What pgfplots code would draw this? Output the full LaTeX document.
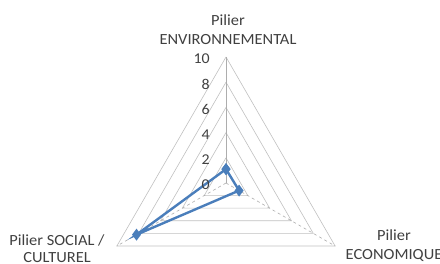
\documentclass[border=0pt]{standalone}
\usepackage{pgfplots}
\pgfplotsset{compat=1.18}
\usepgfplotslibrary{polar}
\usepackage{fontspec}
\setmainfont{Carlito}[FakeStretch=1.06]
\definecolor{serie}{RGB}{74,126,187}
\definecolor{gridc}{RGB}{192,192,192}
\definecolor{txt}{RGB}{64,64,64}
\begin{document}
\begin{tikzpicture}
\begin{polaraxis}[
  scale only axis, width=252bp, height=252bp,
  ymin=0, ymax=10,
  hide axis,
  clip=false,
]
% rings
\addplot[gridc, line width=0.6bp, no markers] coordinates {(90,2)(330,2)(210,2)(90,2)};
\addplot[gridc, line width=0.6bp, no markers] coordinates {(90,4)(330,4)(210,4)(90,4)};
\addplot[gridc, line width=0.6bp, no markers] coordinates {(90,6)(330,6)(210,6)(90,6)};
\addplot[gridc, line width=0.6bp, no markers] coordinates {(90,8)(330,8)(210,8)(90,8)};
\addplot[gridc, line width=0.6bp, no markers] coordinates {(90,10)(330,10)(210,10)(90,10)};
% spokes
\addplot[gridc!90!black, line width=0.6bp, no markers] coordinates {(90,0)(90,10)};
\addplot[gridc!90!black, line width=0.6bp, dashed, no markers] coordinates {(330,0)(330,10)};
\addplot[gridc!90!black, line width=0.6bp, dashed, no markers] coordinates {(210,0)(210,10)};
% data: Environnemental, Economique, Social/Culturel
\addplot[serie, line width=2.4bp, mark=diamond*, mark size=4bp, mark options={fill=serie}]
  coordinates {(90,1.1)(330,1.2)(210,8.2)(90,1.1)};
\coordinate (O) at (axis cs:0,0);
\node[anchor=east, text=txt, font=\fontsize{15bp}{16bp}\selectfont, inner sep=0pt] at ([xshift=-16bp,yshift=-2bp]axis cs:90,0) {0};
\node[anchor=east, text=txt, font=\fontsize{15bp}{16bp}\selectfont, inner sep=0pt] at ([xshift=-16bp,yshift=-2bp]axis cs:90,2) {2};
\node[anchor=east, text=txt, font=\fontsize{15bp}{16bp}\selectfont, inner sep=0pt] at ([xshift=-16bp,yshift=-2bp]axis cs:90,4) {4};
\node[anchor=east, text=txt, font=\fontsize{15bp}{16bp}\selectfont, inner sep=0pt] at ([xshift=-16bp,yshift=-2bp]axis cs:90,6) {6};
\node[anchor=east, text=txt, font=\fontsize{15bp}{16bp}\selectfont, inner sep=0pt] at ([xshift=-16bp,yshift=-2bp]axis cs:90,8) {8};
\node[anchor=east, text=txt, font=\fontsize{15bp}{16bp}\selectfont, inner sep=0pt] at ([xshift=-16bp,yshift=-2bp]axis cs:90,10) {10};
\end{polaraxis}
\node[align=center, text=txt, font=\fontsize{15.5bp}{19bp}\selectfont, inner sep=0pt] at ([shift={(2bp,153bp)}]O) {Pilier\\ENVIRONNEMENTAL};
\node[align=center, text=txt, font=\fontsize{15.5bp}{17bp}\selectfont, inner sep=0pt] at ([shift={(-169bp,-66bp)}]O) {Pilier SOCIAL /\\CULTUREL};
\node[align=center, text=txt, font=\fontsize{15.5bp}{19bp}\selectfont, inner sep=0pt] at ([shift={(168bp,-63bp)}]O) {Pilier\\ECONOMIQUE};
\pgfresetboundingbox
\path[use as bounding box] ([shift={(-226bp,-81bp)}]O) rectangle ([shift={(214bp,183bp)}]O);
\end{tikzpicture}
\end{document}
